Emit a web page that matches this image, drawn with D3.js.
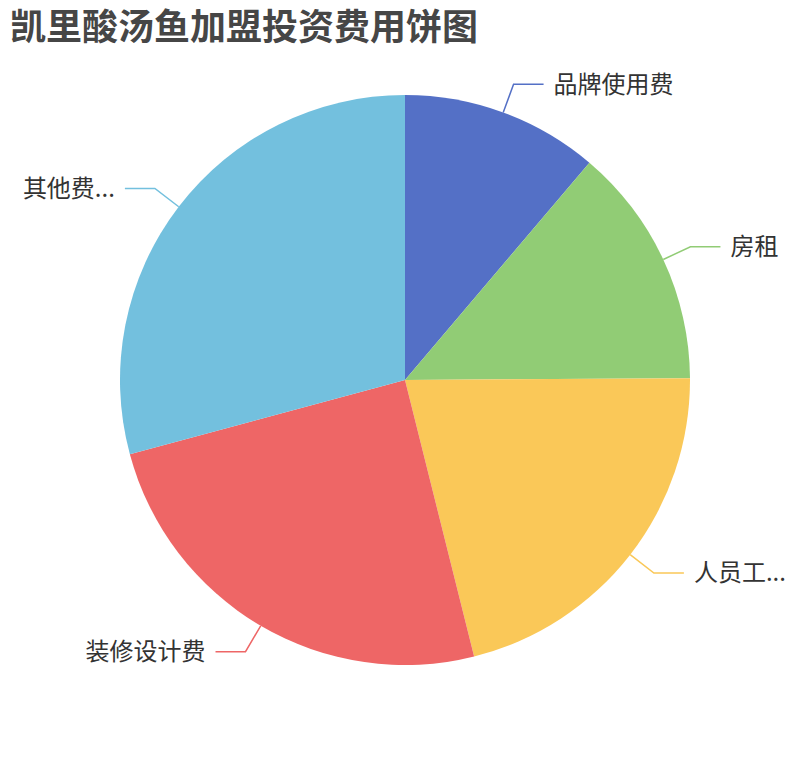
<!DOCTYPE html>
<html>
<head>
<meta charset="utf-8">
<script src="https://cdn.jsdelivr.net/npm/d3@7/dist/d3.min.js"></script>
<style>
  body { margin: 0; background: #fff; }
  text { font-family: "Noto Sans CJK SC", "Noto Sans", sans-serif; }
</style>
</head>
<body>
<div id="chart-area"></div>
<script>
// data
var categories = ["品牌使用费", "房租", "人员工资", "装修设计费", "其他费用"];
var labels = ["品牌使用费", "房租", "人员工...", "装修设计费", "其他费..."];
var values = [11.2, 13.7, 21.2, 24.7, 29.2];
var colors = ["#5470c6", "#91cc75", "#fac858", "#ee6666", "#73c0de"];

var width = 810, height = 760;
var cx = 405, cy = 380, radius = 285;

var svg = d3.select("#chart-area").append("svg")
    .attr("width", width)
    .attr("height", height);

// title
svg.append("text")
    .attr("x", 10)
    .attr("y", 40)
    .attr("font-size", "36px")
    .attr("font-weight", "bold")
    .attr("fill", "#464646")
    .text("凯里酸汤鱼加盟投资费用饼图");

var g = svg.append("g")
    .attr("transform", "translate(" + cx + "," + cy + ")");

var data = categories.map((d, i) => ({ name: d, label: labels[i], value: values[i], color: colors[i] }));

var pie = d3.pie()
    .sort(null)
    .value((d) => d.value);

var arc = d3.arc()
    .innerRadius(0)
    .outerRadius(radius);

var arcs = pie(data);

//slices
g.selectAll(".slice")
    .data(arcs)
    .enter().append("path")
    .attr("class", "slice")
    .attr("d", arc)
    .attr("fill", (d) => d.data.color);

//label lines
var len1 = 30, len2 = 30, gap = 10;

function points(d) {
    var a = (d.startAngle + d.endAngle) / 2;
    var p1 = [radius * Math.sin(a), -radius * Math.cos(a)];
    var p2 = [(radius + len1) * Math.sin(a), -(radius + len1) * Math.cos(a)];
    var dir = Math.sin(a) >= 0 ? 1 : -1;
    var p3 = [p2[0] + dir * len2, p2[1]];
    return { pts: [p1, p2, p3], dir: dir };
}

g.selectAll(".label-line")
    .data(arcs)
    .enter().append("polyline")
    .attr("class", "label-line")
    .attr("points", (d) => points(d).pts.map((p) => p.join(",")).join(" "))
    .attr("fill", "none")
    .attr("stroke", (d) => d.data.color)
    .attr("stroke-width", 1.5);

g.selectAll(".label")
    .data(arcs)
    .enter().append("text")
    .attr("class", "label")
    .attr("x", (d) => { var p = points(d); return p.pts[2][0] + p.dir * gap; })
    .attr("y", (d) => points(d).pts[2][1])
    .attr("dy", "0.35em")
    .attr("text-anchor", (d) => points(d).dir > 0 ? "start" : "end")
    .attr("font-size", "24px")
    .attr("fill", "#333")
    .text((d) => d.data.label);
</script>
</body>
</html>
